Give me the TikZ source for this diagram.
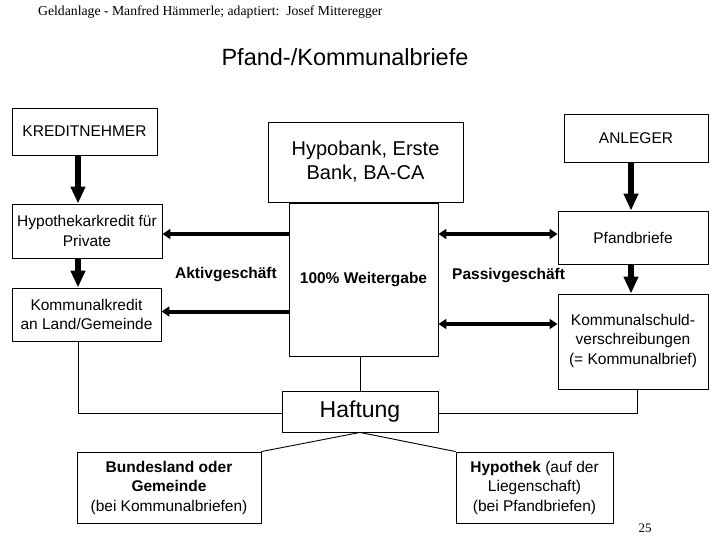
\documentclass[tikz,border=0pt]{standalone}
\usepackage{fontspec}
\setmainfont{Liberation Sans}
\newfontfamily\serifx{Liberation Serif}
\usetikzlibrary{arrows.meta}
\tikzset{
  box/.style={draw=black, line width=0.9pt, inner sep=0pt, align=center,
    font=\fontsize{15.5}{19.5}\selectfont},
  bigarrow/.style={line width=6.5pt, -{Triangle[length=17pt,width=14pt]}},
  harrow/.style={line width=4pt, -{Triangle[length=8pt,width=10pt]}},
  dharrow/.style={line width=4pt, {Triangle[length=8pt,width=10pt]}-{Triangle[length=8pt,width=10pt]}},
  thin line/.style={line width=0.9pt},
  lbl/.style={inner sep=0pt, font=\fontsize{15.5}{19}\selectfont\bfseries}
}
\begin{document}
\begin{tikzpicture}[x=1pt,y=-1pt]
\useasboundingbox (0,0) rectangle (720,540);
\fill[white] (0,0) rectangle (720,540);

% headings
\node[anchor=west, inner sep=0pt, font=\serifx\fontsize{13.7}{16}\selectfont] (auth) at (38,12)
  {Geldanlage - Manfred Hämmerle; adaptiert:\ \ Josef Mitteregger};
\node[inner sep=0pt, font=\fontsize{23.5}{28}\selectfont] (title) at (345,57) {Pfand-/Kommunalbriefe};

% boxes
\node[box, minimum width=145pt, minimum height=47pt] (kred) at (84.5,131.5) {KREDITNEHMER};
\node[box, minimum width=150pt, minimum height=54pt] (hypo) at (87,231) {Hypothekarkredit für\\Private};
\node[box, minimum width=149pt, minimum height=53pt] (komk) at (86.5,314.5) {Kommunalkredit\\an Land/Gemeinde};
\node[box, minimum width=195pt, minimum height=80pt, font=\fontsize{20}{24}\selectfont] (bank) at (365.5,162) {Hypobank, Erste\\Bank, BA-CA};
\node[box, minimum width=149pt, minimum height=153pt, font=\fontsize{15.5}{19}\selectfont\bfseries] (weit) at (363.5,279.5) {100\% Weitergabe};
\node[box, minimum width=144pt, minimum height=48pt] (anl) at (636,138) {ANLEGER};
\node[box, minimum width=150pt, minimum height=53pt] (pfb) at (633,237.5) {Pfandbriefe};
\node[box, minimum width=150pt, minimum height=95pt] (ksv) at (633,341.5) {Kommunalschuld-\\verschreibungen\\(= Kommunalbrief)\\[-15pt]\mbox{}};
\node[box, minimum width=156pt, minimum height=41pt, font=\fontsize{23}{27}\selectfont] (haft) at (360,411.5) {Haftung};
\node[box, minimum width=184pt, minimum height=71pt] (bund) at (169,487.5) {\textbf{Bundesland oder}\\\textbf{Gemeinde}\\(bei Kommunalbriefen)};
\node[box, minimum width=157pt, minimum height=71pt] (hypk) at (534.5,487.5) {\textbf{Hypothek} (auf der\\Liegenschaft)\\(bei Pfandbriefen)};

% labels
\node[lbl, anchor=east] (aktiv) at (277,275) {Aktivgeschäft};
\node[lbl, anchor=west] (passiv) at (452,276) {Passivgeschäft};

% helper coordinates
\coordinate (xl) at (78,0);
\coordinate (xr) at (631,0);
\coordinate (xk) at (637,0);
\coordinate (ya) at (0,234);
\coordinate (yb) at (0,311.5);
\coordinate (yc) at (0,324);
\coordinate (yh) at (0,413);

% thick vertical arrows
\draw[bigarrow] (kred.south -| xl) -- (hypo.north -| xl);
\draw[bigarrow] (hypo.south -| xl) -- (komk.north -| xl);
\draw[bigarrow] (anl.south -| xr) -- (pfb.north -| xr);
\draw[bigarrow] (pfb.south -| xr) -- (ksv.north -| xr);

% horizontal arrows
\draw[harrow] (weit.west |- ya) -- (hypo.east |- ya);
\draw[harrow] (weit.west |- yb) -- (komk.east |- yb);
\draw[dharrow] (weit.east |- ya) -- (pfb.west |- ya);
\draw[dharrow] (weit.east |- yc) -- (ksv.west |- yc);

% liability connectors
\draw[thin line] (komk.south -| xl) -- (xl |- yh) -- (haft.west |- yh);
\draw[thin line] (ksv.south -| xk) -- (xk |- yh) -- (haft.east |- yh);
\draw[thin line] (weit.south -| haft.north) -- (haft.north);
\draw[thin line] (haft.south) -- (bund.north east);
\draw[thin line] (haft.south) -- (hypk.north west);

% page number
\node[inner sep=0pt, font=\serifx\fontsize{13}{15}\selectfont] (page) at (645,528) {25};
\end{tikzpicture}
\end{document}
